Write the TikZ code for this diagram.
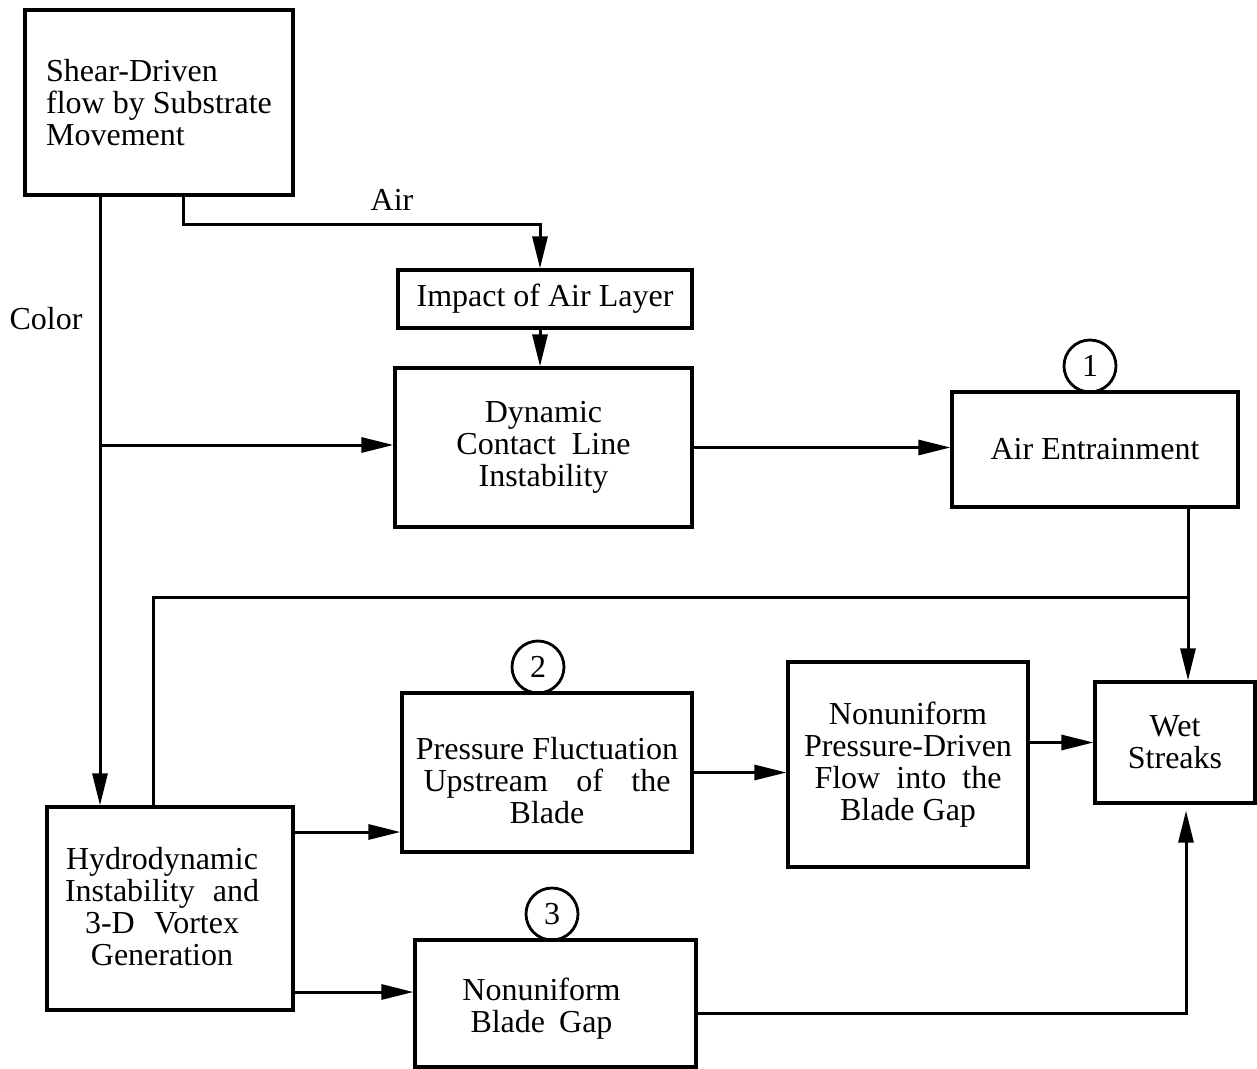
\documentclass[tikz,border=0pt]{standalone}
\usepackage{fontspec}
\setmainfont{Liberation Serif}
\usetikzlibrary{arrows.meta,calc}
\begin{document}
\begin{tikzpicture}[x=0.5pt,y=-0.5pt,
  txt/.style={font=\fontsize{16pt}{16pt}\selectfont},
  box/.style={draw,line width=1.6pt,rectangle,inner sep=0pt,align=center,txt},
  btext/.style={inner sep=0pt,align=center,txt},
  num/.style={draw,line width=1.4pt,circle,inner sep=0pt,minimum size=26pt,txt},
  arr/.style={line width=1.5pt,-{Triangle[length=16pt,width=7.5pt]}},
  ln/.style={line width=1.5pt}]
\useasboundingbox (0,0) rectangle (1257,1069);

% boxes
\node[box,minimum width=134pt,minimum height=92.5pt,align=left] (A) at (159,102.5)
  {Shear-Driven\\flow by Substrate\\Movement};
\node[box,minimum width=147pt,minimum height=29pt] (I) at (545,299) {Impact of Air Layer};
\node[box,minimum width=148.5pt,minimum height=79.5pt] (D) at (543.5,447.5)
  {Dynamic\\Contact\ \ Line\\Instability};
\node[box,minimum width=143pt,minimum height=57.5pt] (AE) at (1095,449.5) {Air Entrainment};
\node[box,minimum width=123pt,minimum height=101.5pt] (H) at (170,908.5) {};
\node[btext] (Ht) at ([xshift=-4pt,yshift=1pt]H.center)
  {Hydrodynamic\\\makebox[97pt][s]{Instability and}\\\makebox[77pt][s]{3-D Vortex}\\Generation};
\node[box,minimum width=145pt,minimum height=79.5pt] (P) at (547,772.5) {};
\node[btext] (Pt) at ([yshift=-4pt]P.center)
  {Pressure Fluctuation\\\makebox[123.5pt][s]{Upstream of the}\\Blade};
\node[box,minimum width=120pt,minimum height=102.5pt] (N) at (908,764.5)
  {Nonuniform\\Pressure-Driven\\\makebox[93.5pt][s]{Flow into the}\\Blade Gap};
\node[box,minimum width=80pt,minimum height=60.5pt] (W) at (1175,742.5) {Wet\\Streaks};
\node[box,minimum width=140.5pt,minimum height=63.5pt] (G) at (555.5,1003.5) {};
\node[btext] (Gt) at ([xshift=-7pt,yshift=-2.5pt]G.center)
  {Nonuniform\\\makebox[71pt][s]{Blade Gap}};

% numbered circles
\node[num] (c1) at (1090,366) {1};
\node[num] (c2) at (538,667) {2};
\node[num] (c3) at (552,914) {3};

% labels
\node[txt] (lair) at (392,200) {Air};
\node[txt] (lcol) at (46,319) {Color};

% helper coordinates
\coordinate (cx) at (100,0);
\coordinate (cj) at (100,445);
\coordinate (ax) at (183,0);
\coordinate (airc) at (540,225);
\coordinate (wx) at (1188,0);
\coordinate (fb) at (1188,597);
\coordinate (fx) at (153,0);
\coordinate (hp) at (0,832);
\coordinate (hn) at (0,992);
\coordinate (bx) at (1186,1013);

% connectors
\draw[arr] (A.south -| cx) -- (H.north -| cx);
\draw[arr] (cj) -- (D.west |- cj);
\draw[arr] (A.south -| ax) |- (airc) -- (I.north -| airc);
\draw[arr] (I.south -| airc) -- (D.north -| airc);
\draw[arr] (D.east) -- (D.east -| AE.west);
\draw[arr] (AE.south -| wx) -- (W.north -| wx);
\draw[ln] (H.north -| fx) |- (fb);
\draw[arr] (H.east |- hp) -- (P.west |- hp);
\draw[arr] (P.east) -- (P.east -| N.west);
\draw[arr] (N.east |- W.west) -- (W.west);
\draw[arr] (H.east |- hn) -- (G.west |- hn);
\draw[arr,shorten >=3pt] (G.east |- bx) -| (W.south -| bx);
\end{tikzpicture}
\end{document}
